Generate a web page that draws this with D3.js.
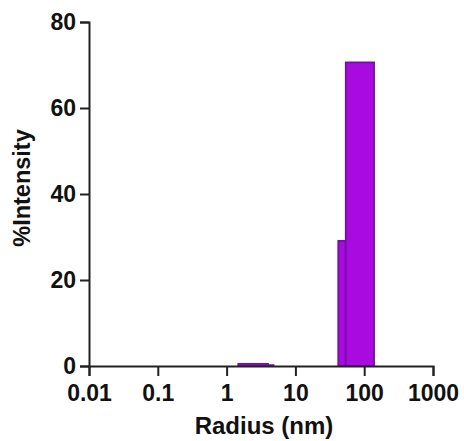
<!DOCTYPE html>
<html>
<head>
<meta charset="utf-8">
<script src="https://cdn.jsdelivr.net/npm/d3@7"></script>
<style>
  body{margin:0;background:#fff;}
  text{font-family:"Liberation Sans",Arial,sans-serif;font-weight:bold;fill:#111;}
</style>
</head>
<body>
<svg></svg>
<script>
// histogram bins (radius in nm) and % intensity
var binStart = [1.48, 4.0, 42, 54];
var binEnd = [4.0, 4.8, 54, 139];
var intensity = [0.5, 0.2, 29.1, 70.6];

var xTicks = [0.01, 0.1, 1, 10, 100, 1000];
var xTickLabels = ["0.01", "0.1", "1", "10", "100", "1000"];
var yTicks = [0, 20, 40, 60, 80];

draw();

function draw(){
  var width = 464;
  var height = 441;
  var margin = {top:22, right:31, bottom:75, left:89};

  var svg = d3.select("svg")
              .attr("width",width)
              .attr("height",height);

  var x = d3.scaleLog()
            .domain([0.01,1000])
            .range([margin.left,width-margin.right]);

  var y = d3.scaleLinear()
            .domain([0,80])
            .range([height-margin.bottom,margin.top]);

  var bins = binStart.map(function(d,i){
    return {x0:d, x1:binEnd[i], v:intensity[i]};
  });

  svg.append("g")
     .selectAll("rect")
     .data(bins)
     .enter()
     .append("rect")
     .attr("x",function(d){return x(d.x0);})
     .attr("y",function(d){return y(d.v);})
     .attr("width",function(d){return x(d.x1)-x(d.x0);})
     .attr("height",function(d){return y(0)-y(d.v);})
     .attr("fill","#a80ae0")
     .attr("stroke","#7410a4")
     .attr("stroke-width",1.8);

  var xAxis = svg.append("g")
     .attr("transform","translate(0,"+(height-margin.bottom)+")")
     .call(d3.axisBottom(x)
             .tickValues(xTicks)
             .tickFormat(function(d,i){return xTickLabels[i];})
             .tickSizeOuter(0)
             .tickSize(10)
             .tickPadding(9));

  var yAxis = svg.append("g")
     .attr("transform","translate("+margin.left+",0)")
     .call(d3.axisLeft(y)
             .tickValues(yTicks)
             .tickSizeOuter(0)
             .tickSize(9)
             .tickPadding(4));

  [xAxis,yAxis].forEach(function(a){
    a.select(".domain").attr("stroke","#222").attr("stroke-width",2);
    a.selectAll(".tick line").attr("stroke","#222").attr("stroke-width",2);
    a.selectAll(".tick text")
     .attr("fill","#111")
     .style("font-size","23px")
     .style("font-family","'Liberation Sans',Arial,sans-serif")
     .style("font-weight","bold");
  });

  svg.append("text")
     .attr("x",(margin.left+width-margin.right)/2 + 3)
     .attr("y",434)
     .attr("text-anchor","middle")
     .style("font-size","24px")
     .text("Radius (nm)");

  svg.append("text")
     .attr("transform","translate(30,188) rotate(-90)")
     .attr("text-anchor","middle")
     .style("font-size","23.5px")
     .text("%Intensity");
}
</script>
</body>
</html>
